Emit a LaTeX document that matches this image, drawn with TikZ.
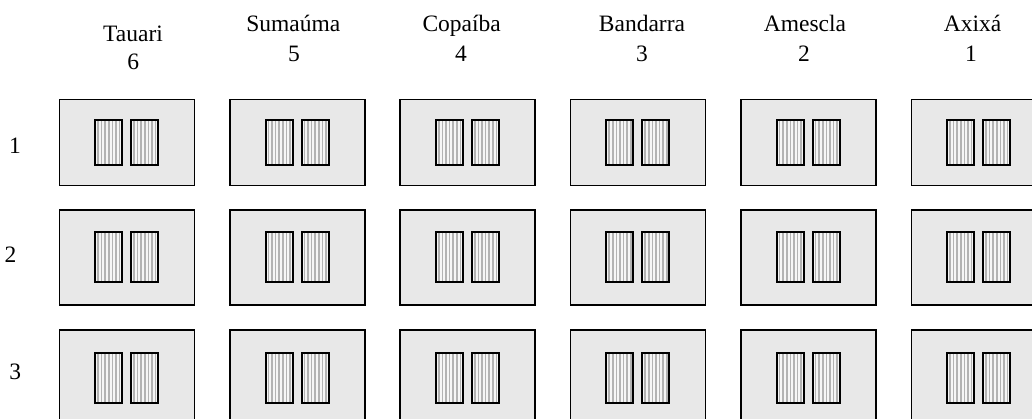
\documentclass[tikz,border=0pt]{standalone}
\usepackage{fontspec}
\setmainfont{Liberation Serif}
\begin{document}
\begin{tikzpicture}[x=1pt,y=-1pt,
  plotbox/.style={draw=black, line width=1.7pt, fill=black!9, anchor=north west, inner sep=0pt, minimum width=135pt},
  seedbox/.style={draw=black, line width=2pt, fill=white!96!black, anchor=north west, inner sep=0pt, minimum width=27pt,
    path picture={\foreach \k in {1,...,7}{\draw[black!30, line width=1.7pt]
      ([xshift=\k*3.6pt-0.8pt]path picture bounding box.north west) -- ([xshift=\k*3.6pt-0.8pt]path picture bounding box.south west);}}},
  lbl/.style={font=\fontsize{23.5}{28}\selectfont, inner sep=0pt, anchor=base}
]
\clip (0,0) rectangle (1032,419);
\fill[white] (0,0) rectangle (1032,419);
% column labels
\node[lbl] (n6) at (133,41.7) {Tauari};
\node[lbl] (d6) at (133.3,70) {6};
\node[lbl] (n5) at (293.3,31.7) {Sumaúma};
\node[lbl] (d5) at (294,61.7) {5};
\node[lbl] (n4) at (461.7,31.7) {Copaíba};
\node[lbl] (d4) at (461,61.7) {4};
\node[lbl] (n3) at (642,31.7) {Bandarra};
\node[lbl] (d3) at (642,61.7) {3};
\node[lbl] (n2) at (805,31.7) {Amescla};
\node[lbl] (d2) at (804,61.7) {2};
\node[lbl] (n1) at (972.5,31.7) {Axixá};
\node[lbl] (d1) at (971,61.7) {1};
% row labels
\node[lbl, anchor=center] (r1) at (15,146) {1};
\node[lbl, anchor=center] (r2) at (10.5,255) {2};
\node[lbl, anchor=center] (r3) at (15.3,371.7) {3};
% plots
\foreach \c/\x in {1/58.5,2/228.9,3/399.3,4/569.7,5/740.1,6/910.5}{
  \foreach \r/\y/\h/\iy/\ih in {1/98.8/85.9/119.2/45,2/209.2/95/231.5/49.7,3/329.2/96/351.5/50}{
    \node[plotbox, minimum height=\h pt] (p\r\c) at (\x,\y) {};
    \node[seedbox, minimum height=\ih pt] (sa\r\c) at (\x+35.7,\iy) {};
    \node[seedbox, minimum height=\ih pt] (sb\r\c) at (\x+71.7,\iy) {};
  }
}
\end{tikzpicture}
\end{document}
